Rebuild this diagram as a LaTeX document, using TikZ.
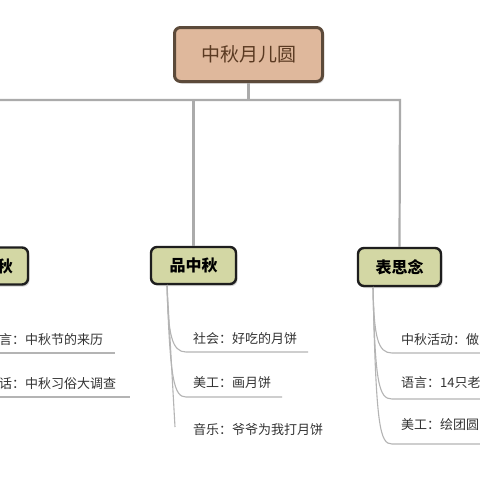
\documentclass[tikz,border=0pt]{standalone}
\usepackage{fontspec}
\setmainfont{Noto Sans CJK SC}
\usetikzlibrary{shadows}
\definecolor{rootfill}{HTML}{DFB89C}
\definecolor{rootline}{HTML}{5C4A3A}
\definecolor{roottext}{HTML}{5A3A22}
\definecolor{midfill}{HTML}{D3D7A4}
\definecolor{midline}{HTML}{1E1E1E}
\definecolor{connc}{HTML}{ABABAB}
\definecolor{itemc}{HTML}{B4B4B4}
\definecolor{itemtext}{HTML}{333333}
\begin{document}
\begin{tikzpicture}[x=1pt,y=-1pt,
  rootbox/.style={draw=rootline, line width=3pt, fill=rootfill, rounded corners=6pt,
    minimum width=148pt, minimum height=54pt, text=roottext, font=\fontsize{19}{19}\selectfont,
    drop shadow={shadow xshift=1.5pt, shadow yshift=-2pt, opacity=0.35}},
  midbox/.style={draw=midline, line width=2.4pt, fill=midfill, rounded corners=6pt,
    minimum height=37pt, font=\fontsize{16}{16}\selectfont\bfseries,
    drop shadow={shadow xshift=1.5pt, shadow yshift=-2pt, opacity=0.35}},
  conn/.style={draw=connc, line width=2.2pt},
  itemline/.style={draw=itemc, line width=1.1pt},
  item/.style={anchor=west, inner sep=0pt, text=itemtext, font=\fontsize{13}{13}\selectfont}]
\useasboundingbox (0,0) rectangle (480,480);
\clip (0,0) rectangle (480,480);
\fill[white] (0,0) rectangle (480,480);

% nodes
\node[rootbox] (root) at (248.5,54.5) {中秋月儿圆};
\node[midbox, minimum width=86pt] (left) at (-15,266) {};
\node[inner sep=0pt, font=\fontsize{16}{16}\selectfont\bfseries] (lefttext) at (5,266) {秋};
\node[midbox, minimum width=85pt] (mid) at (193.5,265.5) {品中秋};
\node[midbox, minimum width=83pt, minimum height=38pt] (right) at (399.5,267) {表思念};

% connectors
\coordinate (hr) at (400,100);
\draw[conn] (root.south) -- (root.south |- hr);
\draw[conn] (left.north |- hr) -- (hr) -- (right.north);
\draw[conn] (mid.north |- hr) -- (mid.north);

% left items
\node[item] (l1) at (-1,340) {言：中秋节的来历};
\node[item] (l2) at (-1,384) {话：中秋习俗大调查};
\coordinate (l1e) at (115,353);
\coordinate (l2e) at (130,397);
\draw[itemline] (-5,353) -- (l1e);
\draw[itemline] (-5,397) -- (l2e);

% middle items
\coordinate (ms) at (167,285);
\node[item] (m1) at (193,339) {社会：好吃的月饼};
\node[item] (m2) at (193,383) {美工：画月饼};
\node[item] (m3) at (193,430) {音乐：爷爷为我打月饼};
\coordinate (m1e) at (308,352);
\coordinate (m2e) at (282,397);
\coordinate (m3e) at (175,427);
\draw[itemline] (ms) .. controls (168,335) and (172,352) .. (186,352) -- (m1e);
\draw[itemline] (ms) .. controls (170,380) and (174,397) .. (186,397) -- (m2e);
\draw[itemline] (ms) -- (m3e);

% right items
\coordinate (rs) at (373,287);
\node[item] (r1) at (401,340) {中秋活动：做};
\node[item] (r2) at (401,383) {语言：14只老};
\node[item] (r3) at (401,425) {美工：绘团圆};
\draw[itemline] (rs) .. controls (374,338) and (378,353) .. (392,353) -- (485,353);
\draw[itemline] (rs) .. controls (375,384) and (379,399) .. (392,399) -- (485,399);
\draw[itemline] (rs) .. controls (376,428) and (380,444) .. (392,444) -- (485,444);
\end{tikzpicture}
\end{document}
